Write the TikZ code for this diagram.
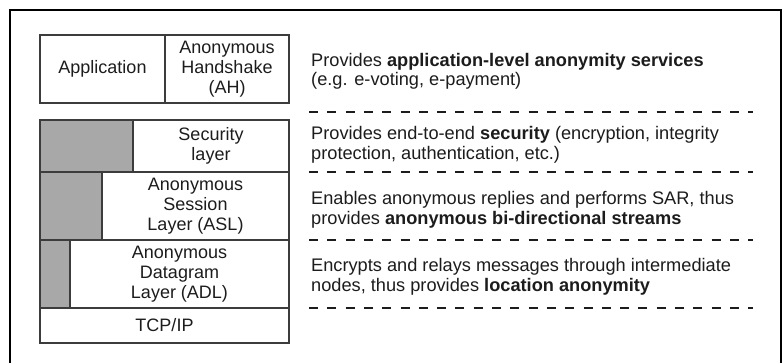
\documentclass[tikz,border=0pt]{standalone}
\usepackage{fontspec}
\setmainfont{Liberation Sans}
\usetikzlibrary{positioning}
\definecolor{layergrey}{RGB}{168,168,168}
\definecolor{edgegrey}{RGB}{60,60,60}
\definecolor{inkgrey}{RGB}{28,28,28}
\tikzset{ % layer boxes
    layer/.style={draw=edgegrey, line width=1.3pt, anchor=north west, inner sep=0pt, outer sep=0pt,
        align=center, text=inkgrey, font=\fontsize{18}{20}\selectfont},
    greypart/.style={layer, fill=layergrey},
    note/.style={anchor=west, inner sep=0pt, align=left, text=inkgrey, font=\fontsize{18.2}{19.5}\selectfont},
    sepline/.style={draw=inkgrey, line width=2pt, dash pattern=on 9pt off 9.3pt},
}

\begin{document}
\begin{tikzpicture}[x=1pt,y=-1pt]
		\useasboundingbox (0,0) rectangle (783,363);
		\draw[line width=1.1pt] (10,363) |- (781,10) -- (781,363);
		% left stack
		\node[layer, minimum width=125pt, minimum height=68pt] (app) at (40,35) {Application};
		\node[layer, minimum width=124pt, minimum height=68pt] (ah) at (app.north east) {Anonymous\\Handshake\\(AH)};
		\node[greypart, minimum width=93pt, minimum height=52pt] (secg) at (40,120) {};
		\node[layer, minimum width=156pt, minimum height=52pt] (sec) at (secg.north east) {Security\\layer};
		\node[greypart, minimum width=62pt, minimum height=68pt] (aslg) at (secg.south west) {};
		\node[layer, minimum width=187pt, minimum height=68pt] (asl) at (aslg.north east) {Anonymous\\Session\\Layer (ASL)};
		\node[greypart, minimum width=30pt, minimum height=68pt] (adlg) at (aslg.south west) {};
		\node[layer, minimum width=219pt, minimum height=68pt] (adl) at (adlg.north east) {Anonymous\\Datagram\\Layer (ADL)};
		\node[layer, minimum width=249pt, minimum height=35pt] (tcp) at (adlg.south west) {TCP/IP};
		% descriptions
		\node[note] (appnote) at (311,71.5) {Provides \textbf{application-level anonymity services}\\(e.g. e-voting, e-payment)};
		\node[note] (secnote) at (311,145) {Provides end-to-end \textbf{security} (encryption, integrity\\protection, authentication, etc.)};
		\node[note] (aslnote) at (311,210) {Enables anonymous replies and performs SAR, thus\\provides \textbf{anonymous bi-directional streams}};
		\node[note] (adlnote) at (311,277) {Encrypts and relays messages through intermediate\\nodes, thus provides \textbf{location anonymity}};
		\foreach \y in {112,172,240,308}{
			\draw[sepline] (309,\y) -- (753,\y);
		}
	\end{tikzpicture}
\end{document}
